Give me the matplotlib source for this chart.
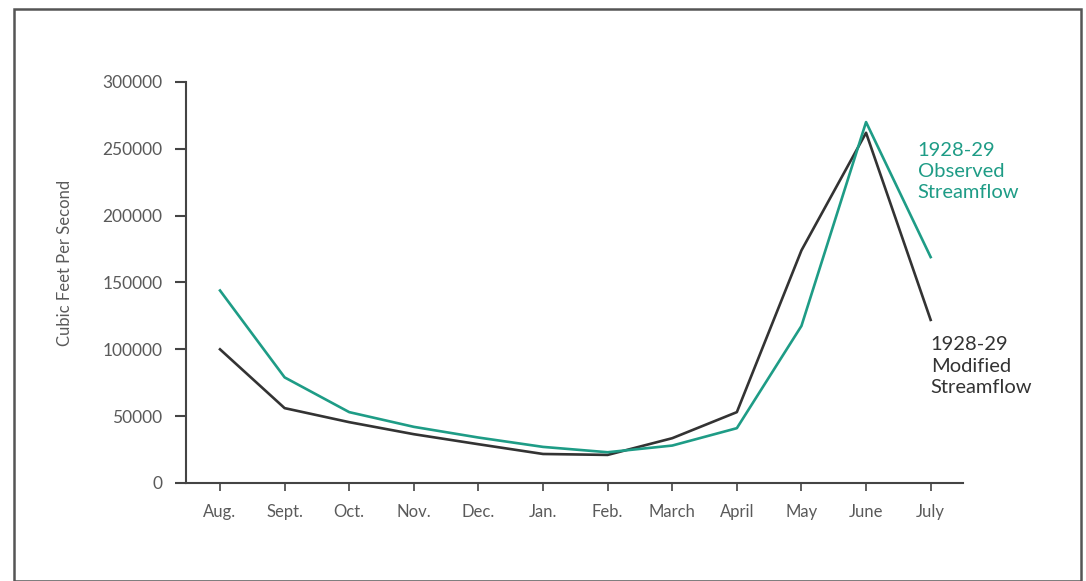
import matplotlib.pyplot as plt
from matplotlib.patches import Rectangle

# monthly data, Aug 1928 -> July 1929
months = ['Aug.', 'Sept.', 'Oct.', 'Nov.', 'Dec.', 'Jan.', 'Feb.',
          'March', 'April', 'May', 'June', 'July']
observed = [144000, 79000, 53000, 42000, 34000, 27000, 23000,
            28000, 41000, 117500, 270000, 169000]
modified = [100000, 56000, 45500, 36500, 29000, 21700, 21000,
            33500, 53000, 174000, 262000, 122000]
yticks = [0, 50000, 100000, 150000, 200000, 250000, 300000]

green = '#1e9c86'
dark = '#333333'
txt = '#5a5a5a'

plt.rcParams['font.family'] = ['Lato', 'DejaVu Sans']

fig = plt.figure(figsize=(10.86, 5.81), dpi=100)
ax = fig.add_axes([0.1713, 0.1687, 0.7154, 0.6902])

x = list(range(len(months)))
ax.plot(x, modified, color=dark, lw=1.9)
ax.plot(x, observed, color=green, lw=1.9)

ax.set_xlim(-0.526, 11.5)
ax.set_ylim(0, 300000)
ax.set_xticks(x)
ax.set_xticklabels(months)
ax.set_yticks(yticks)
ax.set_yticklabels([str(v) for v in yticks])

for s in ['top', 'right']:
    ax.spines[s].set_visible(False)
for s in ['left', 'bottom']:
    ax.spines[s].set_color('#444444')
    ax.spines[s].set_linewidth(1.5)

ax.tick_params(axis='y', length=8, width=1.5, color='#444444', pad=9,
               labelsize=12.5, labelcolor=txt)
ax.tick_params(axis='x', length=6, width=1.2, color='#444444', pad=9,
               labelsize=12, labelcolor=txt)

ax.text(10.8, 233000, '1928-29\nObserved\nStreamflow', color=green,
        fontsize=14.5, va='center', ha='left', linespacing=1.3)
ax.text(11.0, 87500, '1928-29\nModified\nStreamflow', color=dark,
        fontsize=14.5, va='center', ha='left', linespacing=1.3)

fig.text(0.06, 1 - 263 / 581, 'Cubic Feet Per Second', rotation=90,
         color=txt, fontsize=12, va='center', ha='center')

# frame around the whole chart
fig.patches.append(Rectangle((14 / 1086, 0.0), (1081 - 14) / 1086, 1 - 9 / 581 - 0.0,
                             transform=fig.transFigure, fill=False,
                             edgecolor='#555555', lw=1.8))

fig.savefig('out.png', dpi=100)
